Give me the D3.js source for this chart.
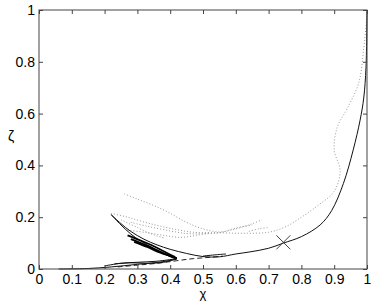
<!DOCTYPE html>
<html>
<head>
<meta charset="utf-8">
<script src="https://cdn.jsdelivr.net/npm/d3@7"></script>
<style>
  body { margin: 0; background: #fff; }
  text { font-family: "Liberation Sans", Arial, sans-serif; fill: #000; }
</style>
</head>
<body>
<div id="chart"></div>
<script>
var width = 374;
var height = 301;
var margin = {top: 10, right: 7, bottom: 32, left: 39};

var xTicks = [0, 0.1, 0.2, 0.3, 0.4, 0.5, 0.6, 0.7, 0.8, 0.9, 1];
var yTicks = [0, 0.2, 0.4, 0.6, 0.8, 1];

// main solid curve
var mainCurve = [[0.22,0.21],[0.25,0.175],[0.28,0.145],[0.32,0.115],[0.36,0.093],[0.40,0.076],[0.45,0.06],
  [0.50,0.048],[0.55,0.047],[0.60,0.058],[0.643,0.066],[0.70,0.08],[0.745,0.1],[0.80,0.125],[0.857,0.17],
  [0.892,0.225],[0.928,0.33],[0.958,0.46],[0.979,0.575],[0.99,0.66],[0.997,0.78],[1.0,1.0]];

// dashed curve
var dashedCurve = [[0.24,0.008],[0.3,0.015],[0.36,0.022],[0.42,0.032],[0.47,0.04],[0.52,0.045],[0.56,0.05]];

// black trajectories in the lower cluster
var traj1 = [[0.22,0.21],[0.25,0.17],[0.28,0.135],[0.31,0.108],[0.35,0.08],[0.38,0.06],[0.41,0.042]];
var traj2 = [[0.28,0.115],[0.32,0.095],[0.36,0.072],[0.39,0.055],[0.42,0.042]];
var traj3 = [[0.27,0.13],[0.31,0.11],[0.35,0.088],[0.39,0.062],[0.415,0.046]];
var traj4 = [[0.29,0.105],[0.33,0.085],[0.37,0.063],[0.40,0.05],[0.42,0.04]];
var traj5 = [[0.06,0.0],[0.15,0.002],[0.22,0.008],[0.3,0.018],[0.37,0.027],[0.42,0.038]];
var traj6 = [[0.23,0.02],[0.28,0.024],[0.33,0.022],[0.38,0.026],[0.42,0.04]];
var traj7 = [[0.42,0.04],[0.36,0.03],[0.3,0.026],[0.25,0.022],[0.2,0.012]];
var traj8 = [[0.5,0.05],[0.54,0.055],[0.57,0.058]];

// grey dotted curves
var dot1 = [[0.26,0.29],[0.3,0.27],[0.35,0.245],[0.4,0.215],[0.45,0.18],[0.5,0.155],[0.55,0.143],[0.6,0.155],[0.65,0.175],[0.68,0.19]];
var dot2 = [[0.22,0.215],[0.27,0.2],[0.33,0.178],[0.4,0.157],[0.47,0.142],[0.55,0.14],[0.62,0.138],[0.7,0.142],
  [0.75,0.162],[0.8,0.2],[0.85,0.245],[0.9,0.3],[0.918,0.38],[0.9,0.46],[0.91,0.55],[0.94,0.62],[0.975,0.72],[0.99,0.85],[1.0,0.98]];
var dot3 = [[0.28,0.18],[0.33,0.165],[0.4,0.147],[0.45,0.137],[0.5,0.136],[0.55,0.14],[0.6,0.158],[0.65,0.17]];
var dot4 = [[0.27,0.15],[0.33,0.14],[0.38,0.13],[0.43,0.122],[0.48,0.13],[0.52,0.14]];
var dot5 = [[0.25,0.19],[0.3,0.16],[0.35,0.132],[0.38,0.12]];
var dot6 = [[0.64,0.145],[0.67,0.155],[0.7,0.16]];

var marker = [0.745, 0.103];

var svg = d3.select("#chart").append("svg")
  .attr("width", width)
  .attr("height", height);

var x = d3.scaleLinear().domain([0, 1]).range([margin.left, width - margin.right]);
var y = d3.scaleLinear().domain([0, 1]).range([height - margin.bottom, margin.top]);

var line = d3.line()
  .x(function(d) { return x(d[0]); })
  .y(function(d) { return y(d[1]); })
  .curve(d3.curveCatmullRom);

var plot = svg.append("g");

[dot1, dot2, dot3, dot4, dot5, dot6].forEach(function(d) {
  plot.append("path")
    .datum(d)
    .attr("d", line)
    .attr("fill", "none")
    .attr("stroke", "#999")
    .attr("stroke-width", 1)
    .attr("stroke-dasharray", "1,2");
});

plot.append("path")
  .datum(dashedCurve)
  .attr("d", line)
  .attr("fill", "none")
  .attr("stroke", "#222")
  .attr("stroke-width", 1)
  .attr("stroke-dasharray", "5,3");

[traj1, traj5, traj6, traj7, traj8].forEach(function(d) {
  plot.append("path")
    .datum(d)
    .attr("d", line)
    .attr("fill", "none")
    .attr("stroke", "#111")
    .attr("stroke-width", 1);
});

[traj2, traj3, traj4].forEach(function(d) {
  plot.append("path")
    .datum(d)
    .attr("d", line)
    .attr("fill", "none")
    .attr("stroke", "#000")
    .attr("stroke-width", 1.8);
});

plot.append("path")
  .datum(mainCurve)
  .attr("d", line)
  .attr("fill", "none")
  .attr("stroke", "#111")
  .attr("stroke-width", 1);

// cross marker
var mx = x(marker[0]), my = y(marker[1]), ms = 7;
plot.append("path")
  .attr("d", "M" + (mx - ms) + "," + (my - ms) + "L" + (mx + ms) + "," + (my + ms) +
    "M" + (mx - ms) + "," + (my + ms) + "L" + (mx + ms) + "," + (my - ms))
  .attr("stroke", "#444")
  .attr("stroke-width", 1);

// axes box with inward ticks
var axisColor = "#444";
var x0 = x(0), x1 = x(1), y0 = y(0), y1 = y(1);

svg.append("rect")
  .attr("x", x0).attr("y", y1)
  .attr("width", x1 - x0).attr("height", y0 - y1)
  .attr("fill", "none")
  .attr("stroke", axisColor)
  .attr("stroke-width", 1);

var xAxis = d3.axisBottom(x).tickValues(xTicks).tickSizeInner(-4).tickSizeOuter(0)
  .tickPadding(5).tickFormat(d3.format("~g"));
var xAxisTop = d3.axisTop(x).tickValues(xTicks).tickSizeInner(-4).tickSizeOuter(0).tickFormat("");
var yAxis = d3.axisLeft(y).tickValues(yTicks).tickSizeInner(-4).tickSizeOuter(0)
  .tickPadding(4).tickFormat(d3.format("~g"));
var yAxisRight = d3.axisRight(y).tickValues(yTicks).tickSizeInner(-4).tickSizeOuter(0).tickFormat("");

function style(g) {
  g.select(".domain").remove();
  g.selectAll(".tick line").attr("stroke", axisColor);
  g.selectAll(".tick text")
    .style("font-family", "'Liberation Sans', Arial, sans-serif")
    .style("font-size", "14px")
    .attr("fill", "#000");
}

svg.append("g").attr("transform", "translate(0," + y0 + ")").call(xAxis).call(style);
svg.append("g").attr("transform", "translate(0," + y1 + ")").call(xAxisTop).call(style);
svg.append("g").attr("transform", "translate(" + x0 + ",0)").call(yAxis).call(style);
svg.append("g").attr("transform", "translate(" + x1 + ",0)").call(yAxisRight).call(style);

svg.append("text")
  .attr("x", (x0 + x1) / 2)
  .attr("y", 298)
  .attr("text-anchor", "middle")
  .style("font-size", "13px")
  .text("χ");

svg.append("text")
  .attr("x", 11)
  .attr("y", 141)
  .attr("text-anchor", "middle")
  .style("font-size", "14px")
  .text("ζ");
</script>
</body>
</html>
